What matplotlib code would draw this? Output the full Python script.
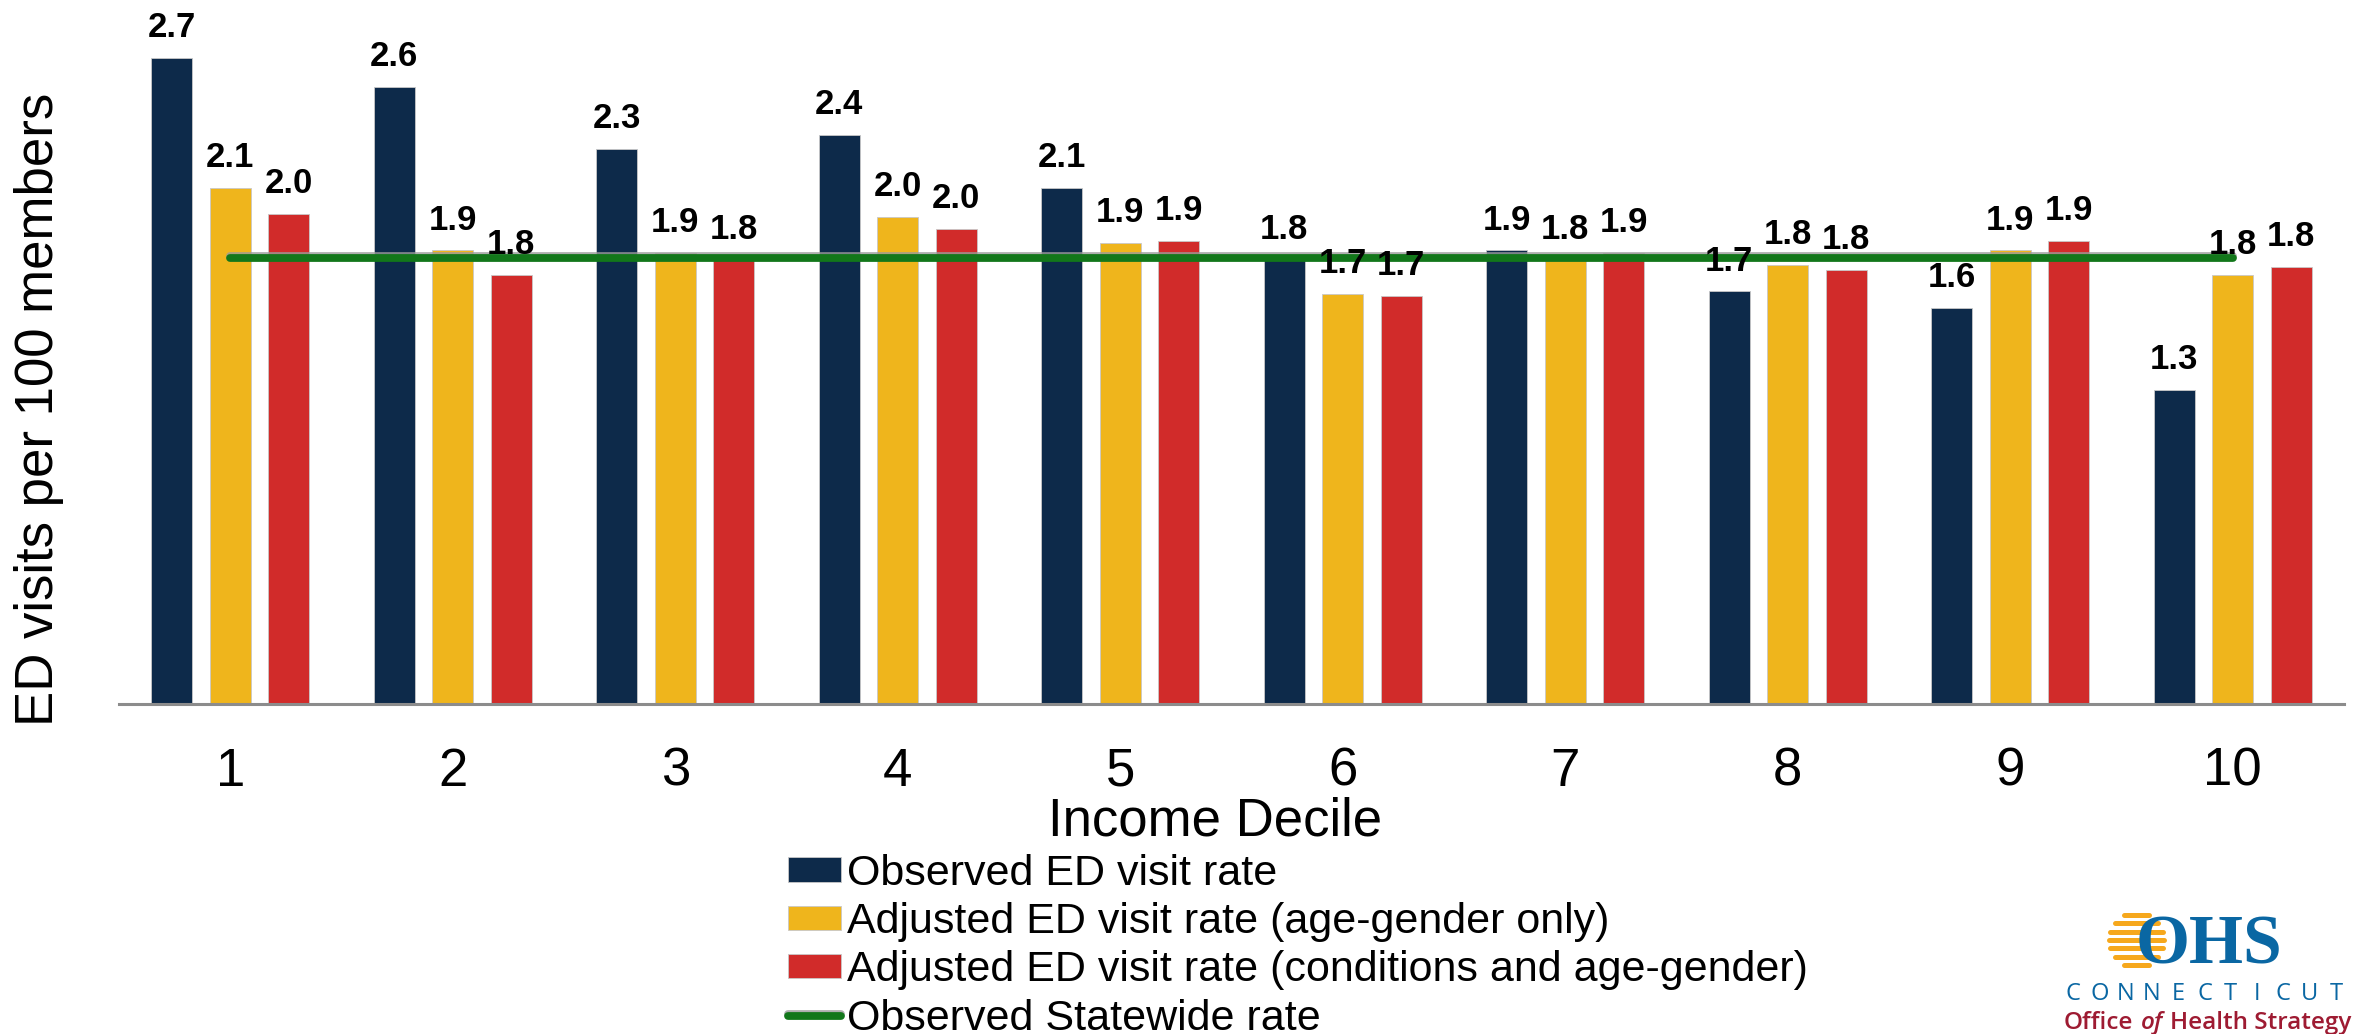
import matplotlib
matplotlib.use("Agg")
import matplotlib.pyplot as plt
import matplotlib.patheffects as pe
import numpy as np

plt.rcParams['font.family'] = ['Liberation Sans', 'DejaVu Sans']

deciles = ['1', '2', '3', '4', '5', '6', '7', '8', '9', '10']
observed = [2.68, 2.56, 2.30, 2.36, 2.14, 1.84, 1.88, 1.71, 1.64, 1.30]
adj_age_gender = [2.14, 1.88, 1.87, 2.02, 1.91, 1.70, 1.84, 1.82, 1.88, 1.78]
adj_conditions = [2.03, 1.78, 1.84, 1.97, 1.92, 1.69, 1.87, 1.80, 1.92, 1.81]
statewide_rate = 1.85

series_labels = ['Observed ED visit rate',
                 'Adjusted ED visit rate (age-gender only)',
                 'Adjusted ED visit rate (conditions and age-gender)',
                 'Observed Statewide rate']
colors = ['#0d2a4a', '#efb51c', '#d12b2a']
green = '#12771a'

W, H = 2356, 1034
fig = plt.figure(figsize=(W / 100, H / 100), dpi=100)
ax = fig.add_axes([119 / W, 1 - 703.5 / H, (2344 - 119) / W, 2.9 * 241 / H])

x = np.arange(1, len(deciles) + 1)
width = 0.185
offset = 0.263

bars = []
for i, vals in enumerate([observed, adj_age_gender, adj_conditions]):
    b = ax.bar(x + (i - 1) * offset, vals, width, color=colors[i],
               edgecolor='#c8c8c8', linewidth=0.6, zorder=2)
    bars.append(b)

line, = ax.plot([x[0], x[-1]], [statewide_rate, statewide_rate], color=green,
                lw=5.6, solid_capstyle='round', zorder=3,
                path_effects=[pe.SimpleLineShadow(offset=(0, 1.2), shadow_color='#9a9a9a', alpha=0.8),
                              pe.Normal()])

for b, vals in zip(bars, [observed, adj_age_gender, adj_conditions]):
    for rect, v in zip(b, vals):
        ax.annotate(f'{v:.1f}', (rect.get_x() + rect.get_width() / 2, v),
                    xytext=(0, 15), textcoords='offset points',
                    ha='center', va='baseline', fontsize=25, fontweight='bold',
                    zorder=4)

ax.set_xlim(0.5, 10.5)
ax.set_ylim(0, 2.9)
ax.set_xticks(x)
ax.set_xticklabels(deciles)
ax.tick_params(axis='x', length=0, pad=31, labelsize=38)
ax.set_yticks([])
for s in ['top', 'right', 'left']:
    ax.spines[s].set_visible(False)
ax.spines['bottom'].set_color('#8c8c8c')
ax.spines['bottom'].set_linewidth(2.2)

fig.text(1215 / W, 1 - 835 / H, 'Income Decile', fontsize=38, ha='center', va='baseline')
fig.text(39 / W, 1 - 409 / H, 'ED visits per 100 members', fontsize=38,
         rotation=90, ha='center', va='center')

ax.legend(bars + [line], series_labels, loc='upper left',
          bbox_to_anchor=(788 / W, 1 - 854 / H), bbox_transform=fig.transFigure,
          frameon=False, fontsize=31, handlelength=1.23, handleheight=0.5,
          handletextpad=0.13, labelspacing=0.19, borderpad=0, borderaxespad=0)

# logo in pixel coordinates
lg = fig.add_axes([0, 0, 1, 1], zorder=5)
lg.set_xlim(0, W)
lg.set_ylim(H, 0)
lg.axis('off')
cx, cy, r = 2134, 940, 28
for sy in np.linspace(cy - 25, cy + 25, 7):
    hw = np.sqrt(max(r ** 2 - (sy - cy) ** 2, 0))
    lg.plot([cx - hw + 3, cx + hw + 2], [sy, sy], color='#f6a81d', lw=3.6,
            solid_capstyle='round')
lg.text(2136, 964, 'OHS', fontsize=50, family='Liberation Serif', fontweight='bold',
        color='#0a67a3', ha='left', va='baseline')
for i, ch in enumerate('CONNECTICUT'):
    lg.text(2073 + i * (2336 - 2073) / 10, 1000, ch, fontsize=17, family='Open Sans',
            color='#0a67a3', ha='center', va='baseline')

red = '#9e1b32'
for px, piece, st in [(2064, 'Office', 'normal'), (2141, 'of', 'italic'),
                      (2170, 'Health Strategy', 'normal')]:
    lg.text(px, 1029, piece, fontsize=17.5, family='Open Sans', fontweight='semibold',
            style=st, color=red, ha='left', va='baseline')

fig.savefig('out.png', dpi=100)
